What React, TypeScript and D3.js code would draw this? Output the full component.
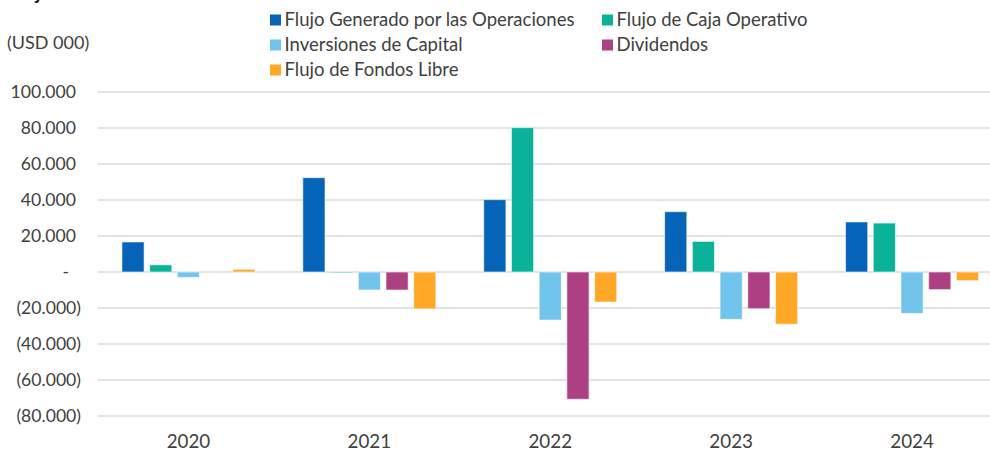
import React from "react";
import * as d3 from "d3";

const years = ["2020", "2021", "2022", "2023", "2024"];
const seriesNames = [
  "Flujo Generado por las Operaciones",
  "Flujo de Caja Operativo",
  "Inversiones de Capital",
  "Dividendos",
  "Flujo de Fondos Libre",
];
const seriesColors = ["#0563B8", "#0BB29A", "#71C4EC", "#AD4083", "#FFA827"];
const flujoGenerado = [16700, 52400, 40200, 33500, 27800];
const flujoCajaOperativo = [4000, -500, 80200, 17000, 27200];
const inversionesCapital = [-3000, -10000, -26700, -26300, -23000];
const dividendos = [0, -10000, -70700, -20400, -9800];
const flujoFondosLibre = [1500, -20500, -16700, -29000, -4800];
const yTicks = [100000, 80000, 60000, 40000, 20000, 0, -20000, -40000, -60000, -80000];

const seriesValues = [flujoGenerado, flujoCajaOperativo, inversionesCapital, dividendos, flujoFondosLibre];

const W = 990;
const H = 450;
const FONT = "Lato, 'Open Sans', sans-serif";
const TXT = "#404040";

function fmt(v: number): string {
  if (v === 0) return "-";
  const s = d3.format(",")(Math.abs(v)).replace(/,/g, ".");
  return v < 0 ? `(${s})` : s;
}

export default function App() {
  const x0 = d3.scaleBand<string>().domain(years).range([98, 1002.5]).paddingInner(0.234).paddingOuter(0.117);
  const x1 = d3
    .scaleBand<number>()
    .domain(d3.range(seriesNames.length))
    .range([0, x0.bandwidth()])
    .paddingInner(0.2)
    .paddingOuter(0.1);
  const y = d3.scaleLinear().domain([-80000, 100000]).range([416, 92]);

  const legendPos = [
    [270, 20],
    [602, 20],
    [270, 45],
    [602, 45],
    [270, 70],
  ];

  return (
    <svg width={W} height={H} style={{ display: "block", position: "absolute", left: 0, top: 0, background: "#fff" }} fontFamily={FONT}>
      <rect x={0} y={0} width={W} height={H} fill="#fff" />
      <text x={8} y={-1} fontSize={20} fontWeight="bold" fill="#262626">Flujo de Fondos</text>
      <text x={7} y={49} fontSize={18} fill={TXT}>(USD 000)</text>
      {yTicks.map((t) => (
        <g key={t}>
          <line x1={98} x2={1002} y1={y(t)} y2={y(t)} stroke="#D9D9D9" strokeWidth={1.5} />
          <text
            x={t === 0 ? 69 : t < 0 ? 81 : 76}
            y={y(t)}
            dy="0.35em"
            textAnchor="end"
            fontSize={17.6}
            fill={TXT}
          >
            {fmt(t)}
          </text>
        </g>
      ))}
      {years.map((yr, i) => (
        <g key={yr} transform={`translate(${x0(yr)},0)`}>
          {seriesValues.map((vals, s) => {
            const v = vals[i];
            if (v === 0) return null;
            const y0 = y(0);
            const yv = y(v);
            return (
              <rect
                key={s}
                x={x1(s)}
                y={Math.min(y0, yv)}
                width={x1.bandwidth()}
                height={Math.abs(yv - y0)}
                fill={seriesColors[s]}
                stroke="#ffffff"
                strokeOpacity={0.6}
                strokeWidth={1}
              />
            );
          })}
          <text x={x0.bandwidth() / 2} y={441} dy="0.35em" textAnchor="middle" fontSize={18.8} fill={TXT}>
            {yr}
          </text>
        </g>
      ))}
      {seriesNames.map((n, s) => (
        <g key={n} transform={`translate(${legendPos[s][0]},${legendPos[s][1]})`}>
          <rect x={0} y={-5.5} width={11} height={11} fill={seriesColors[s]} />
          <text x={14.5} y={0} dy="0.35em" fontSize={18.5} fill={TXT}>
            {n}
          </text>
        </g>
      ))}
    </svg>
  );
}
